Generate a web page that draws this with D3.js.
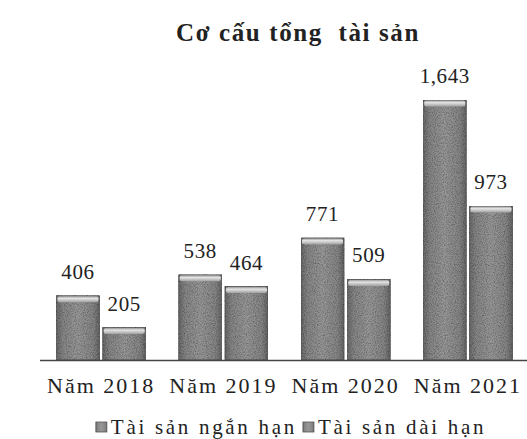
<!DOCTYPE html>
<html>
<head>
<meta charset="utf-8">
<script src="https://cdn.jsdelivr.net/npm/d3@7"></script>
<style>
  html, body { margin: 0; padding: 0; background: #fff; }
  svg { display: block; }
  text { font-family: "Liberation Serif", "Times New Roman", serif; fill: #222; }
</style>
</head>
<body>
<svg id="chart" width="527" height="439"></svg>
<script>
const categories = ["Năm 2018", "Năm 2019", "Năm 2020", "Năm 2021"];
const seriesNames = ["Tài sản ngắn hạn", "Tài sản dài hạn"];
const shortTerm = [406, 538, 771, 1643];
const longTerm = [205, 464, 509, 973];
const chartTitle = "Cơ cấu tổng  tài sản";

const W = 527, H = 439;
const baseY = 360, topY = 100;
const svg = d3.select("#chart");

const data = categories.map((c, i) => ({ cat: c, values: [shortTerm[i], longTerm[i]] }));

const x0 = d3.scaleBand().domain(categories).range([40, 529]).paddingInner(0.27).paddingOuter(0.135);
const x1 = d3.scaleBand().domain(seriesNames).range([0, x0.bandwidth()]).paddingInner(0.07);
const y = d3.scaleLinear().domain([0, 1643]).range([baseY, topY]);

// gradients & texture
const defs = svg.append("defs");
const gBody = defs.append("linearGradient").attr("id", "body").attr("x1", 0).attr("x2", 1).attr("y1", 0).attr("y2", 0);
[[0, "#6a6a6a"], [0.15, "#868686"], [0.5, "#979797"], [0.85, "#868686"], [1, "#666"]]
  .forEach(([o, c]) => gBody.append("stop").attr("offset", o).attr("stop-color", c));
const gTop = defs.append("linearGradient").attr("id", "topg").attr("x1", 0).attr("x2", 0).attr("y1", 0).attr("y2", 1);
[[0, "#9a9a9a"], [0.35, "#e4e4e4"], [1, "#a0a0a0"]]
  .forEach(([o, c]) => gTop.append("stop").attr("offset", o).attr("stop-color", c));

const filt = defs.append("filter").attr("id", "grain").attr("x", 0).attr("y", 0).attr("width", 1).attr("height", 1);
filt.append("feTurbulence").attr("type", "fractalNoise").attr("baseFrequency", 0.9).attr("numOctaves", 2).attr("seed", 3).attr("result", "noise");
filt.append("feColorMatrix").attr("in", "noise").attr("type", "matrix")
  .attr("values", "0 0 0 0 0  0 0 0 0 0  0 0 0 0 0  0 0 0 1.2 -0.45").attr("result", "dots");
filt.append("feComposite").attr("in", "dots").attr("in2", "SourceGraphic").attr("operator", "in").attr("result", "dotsIn");
const merge = filt.append("feMerge");
merge.append("feMergeNode").attr("in", "SourceGraphic");
merge.append("feMergeNode").attr("in", "dotsIn");

// title
svg.append("text").attr("x", 298).attr("y", 41).attr("text-anchor", "middle")
  .attr("font-size", 25).attr("font-weight", "bold").attr("letter-spacing", 1.6)
  .style("white-space", "pre").text(chartTitle);

// bars
const groups = svg.selectAll("g.grp").data(data).join("g").attr("class", "grp")
  .attr("transform", d => `translate(${x0(d.cat)},0)`);

const bars = groups.selectAll("g.bar").data(d => d.values.map((v, j) => ({ name: seriesNames[j], v })))
  .join("g").attr("class", "bar");

bars.append("rect")
  .attr("x", d => x1(d.name)).attr("width", x1.bandwidth())
  .attr("y", d => y(d.v)).attr("height", d => baseY - y(d.v))
  .attr("fill", "url(#body)").attr("stroke", "#555").attr("stroke-width", 0.8)
  .attr("filter", "url(#grain)");

bars.append("rect")
  .attr("x", d => x1(d.name) + 1).attr("width", x1.bandwidth() - 2)
  .attr("y", d => y(d.v) + 0.5).attr("height", 6).attr("rx", 2)
  .attr("fill", "url(#topg)");

bars.append("text")
  .attr("x", d => x1(d.name) + x1.bandwidth() / 2)
  .attr("y", d => y(d.v) - 17)
  .attr("text-anchor", "middle").attr("font-size", 21).attr("letter-spacing", 0.6)
  .text(d => d3.format(",")(d.v));

// axis line
svg.append("line").attr("x1", 40).attr("x2", 527).attr("y1", baseY + 0.5).attr("y2", baseY + 0.5)
  .attr("stroke", "#444").attr("stroke-width", 1.5);

// x labels
const xAxis = svg.append("g").attr("transform", `translate(0,${baseY})`)
  .call(d3.axisBottom(x0).tickSize(0).tickPadding(0));
xAxis.select(".domain").remove();
xAxis.selectAll("text").attr("dy", null).attr("y", 33)
  .attr("font-size", 22).attr("letter-spacing", 2)
  .style("font-family", "Liberation Serif, serif").attr("fill", "#222");

// legend
const legend = svg.append("g").attr("transform", "translate(0,434)");
const items = legend.selectAll("g").data(seriesNames).join("g");
items.append("rect").attr("y", -12).attr("width", 11).attr("height", 10)
  .attr("fill", "url(#body)").attr("stroke", "#555").attr("stroke-width", 0.8);
items.append("text").attr("x", 15).attr("font-size", 21).attr("letter-spacing", 2.7).text(d => d);
const widths = [];
items.each(function () { widths.push(this.getBBox().width); });
const gap = 6;
const total = d3.sum(widths) + gap;
let start = 291 - total / 2;
items.attr("transform", (d, i) => {
  const t = `translate(${start},0)`;
  start += widths[i] + gap;
  return t;
});
</script>
</body>
</html>
